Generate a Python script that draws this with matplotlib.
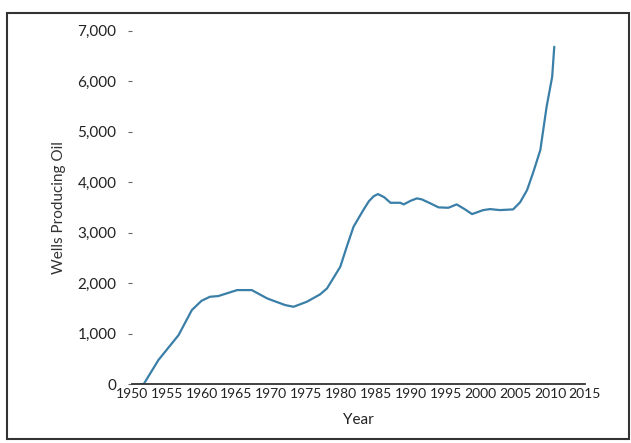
import matplotlib
matplotlib.use("Agg")
import matplotlib.pyplot as plt
from matplotlib.patches import Rectangle
from matplotlib.ticker import FuncFormatter

years = [1951.2, 1951.7, 1953.8, 1956.7, 1958.6, 1960.0, 1961.2, 1962.4, 1963.7, 1965.1,
         1967.2, 1969.4, 1970.5, 1972.0, 1973.2, 1975.1, 1977.0, 1978.0, 1979.9, 1980.9,
         1981.8, 1983.2, 1984.0, 1984.7, 1985.3, 1986.2, 1987.1, 1988.5, 1989.0, 1990.0,
         1990.9, 1991.6, 1992.8, 1994.0, 1995.4, 1996.6, 1997.8, 1998.8, 2000.4, 2001.4,
         2002.8, 2004.7, 2005.7, 2006.7, 2007.6, 2008.6, 2009.5, 2010.3, 2010.6]
wells = [0, 0, 475, 970, 1465, 1650, 1729, 1743, 1800, 1861,
         1861, 1697, 1640, 1564, 1531, 1630, 1776, 1895, 2323, 2750,
         3115, 3445, 3620, 3720, 3762, 3700, 3590, 3590, 3558, 3630,
         3677, 3657, 3580, 3499, 3491, 3558, 3459, 3366, 3445, 3465,
         3445, 3459, 3600, 3842, 4200, 4634, 5491, 6085, 6679]
xticks = list(range(1950, 2016, 5))
yticks = list(range(0, 7001, 1000))

plt.rcParams['font.family'] = ['Lato', 'DejaVu Sans']

fig = plt.figure(figsize=(6.31, 4.43), dpi=100)
ax = fig.add_axes([0.209, 0.133, 0.718, 0.798])
ax.plot(years, wells, color='#3a7fa8', lw=1.6, solid_capstyle='round',
        solid_joinstyle='round')

ax.set_xlim(1950, 2015)
ax.set_ylim(0, 7000)
ax.set_xticks(xticks)
ax.set_yticks(yticks)
ax.yaxis.set_major_formatter(FuncFormatter(lambda v, p: f"{int(v):,}"))
for s in ['top', 'right', 'left']:
    ax.spines[s].set_visible(False)
ax.spines['bottom'].set_color('#333333')
ax.spines['bottom'].set_linewidth(1.3)
ax.tick_params(axis='x', length=0, pad=3, labelsize=10, colors='#222222')
ax.tick_params(axis='y', length=3, width=0.8, color='#666666', pad=8,
               labelsize=11, labelcolor='#222222')
ax.set_xlabel('Year', fontsize=11, color='#222222', labelpad=9)
ax.set_ylabel('Wells Producing Oil', fontsize=11, color='#333333', labelpad=8)

fig.patches.append(Rectangle((0.011, 0.009), 0.986, 0.962, transform=fig.transFigure,
                             fill=False, edgecolor='#333333', linewidth=1.5))

fig.savefig('out.png', dpi=100)
